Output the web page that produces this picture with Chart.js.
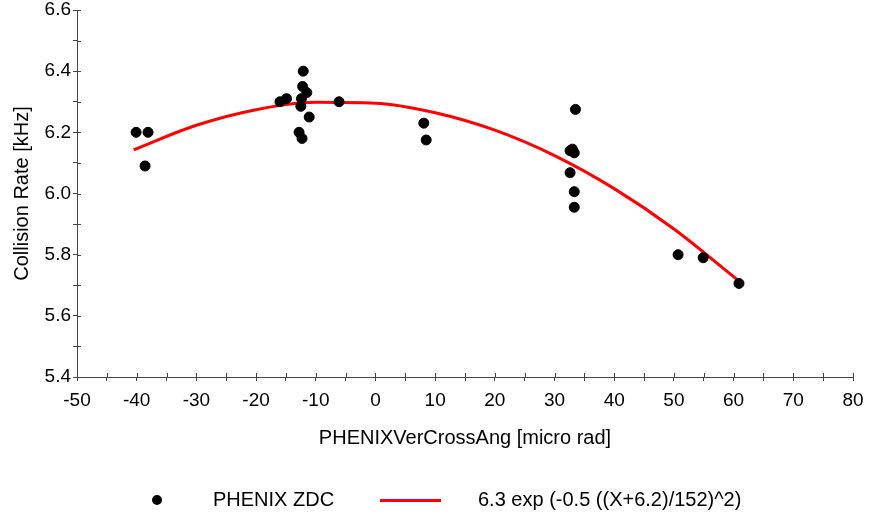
<!DOCTYPE html>
<html>
<head>
<meta charset="utf-8">
<script src="https://cdn.jsdelivr.net/npm/chart.js@4.4.0/dist/chart.umd.min.js"></script>
<style>
    body { margin: 0; background: #fff; }
    #wrap { position: relative; width: 872px; height: 520px; }
    .leg { position: absolute; font: 20px "Liberation Sans", Arial, sans-serif; color: #000; white-space: nowrap; }
</style>
</head>
<body>
<div id="wrap">
    <canvas id="myChart" width="872" height="520"></canvas>
    <div class="leg" style="left:152px; top:495px; width:10px; height:10px; border-radius:50%; background:#000;"></div>
    <div class="leg" style="left:213px; top:488px;">PHENIX ZDC</div>
    <div class="leg" style="left:380px; top:499px; width:61px; height:3px; background:#ff0000;"></div>
    <div class="leg" style="left:478px; top:488px;">6.3 exp (-0.5 ((X+6.2)/152)^2)</div>
</div>
<script>
// measured points (PHENIX ZDC)
var zdcX = [-40.1, -38.1, -38.6, -16.0, -14.9, -12.1, -12.2, -11.5, -12.4, -12.5, -11.1, -12.8, -12.3, -6.1,
            8.1, 8.5, 33.5, 32.6, 33.3, 33.0, 32.6, 33.3, 33.3, 50.7, 54.9, 60.9];
var zdcY = [6.20, 6.20, 6.09, 6.30, 6.31, 6.40, 6.35, 6.33, 6.31, 6.285, 6.25, 6.20, 6.18, 6.30,
            6.23, 6.175, 6.275, 6.14, 6.133, 6.145, 6.068, 6.006, 5.955, 5.80, 5.79, 5.706];

// gaussian fit curve
var fitX = [-40.5, -30, -20, -10, 0, 10, 20, 30, 40, 50, 60.5];
var fitY = [6.143, 6.223, 6.274, 6.298, 6.295, 6.264, 6.207, 6.124, 6.016, 5.884, 5.72];

var xLabel = 'PHENIXVerCrossAng [micro rad]';
var yLabel = 'Collision Rate [kHz]';

var fontFamily = '"Liberation Sans", Arial, sans-serif';

function toPoints(xs, ys) {
    var pts = [];
    for (var i = 0; i < xs.length; i++) {
        pts.push({ x: xs[i], y: ys[i] });
    }
    return pts;
}

// small tick marks on the inside of the axes
var innerTicks = {
    id: 'innerTicks',
    afterDraw: function(chart) {
        var ctx = chart.ctx;
        var xs = chart.scales.x, ys = chart.scales.y;
        ctx.save();
        ctx.strokeStyle = '#444';
        ctx.lineWidth = 1;
        ctx.beginPath();
        xs.ticks.forEach(function(t) {
            var px = Math.round(xs.getPixelForValue(t.value)) + 0.5;
            ctx.moveTo(px, ys.bottom);
            ctx.lineTo(px, ys.bottom - 4);
        });
        ys.ticks.forEach(function(t) {
            var py = Math.round(ys.getPixelForValue(t.value)) + 0.5;
            ctx.moveTo(xs.left, py);
            ctx.lineTo(xs.left + 4, py);
        });
        ctx.stroke();
        ctx.restore();
    }
};

var ctx = document.getElementById('myChart');
var myChart = new Chart(ctx, {
    type: 'scatter',
    data: {
        datasets: [{
            label: 'PHENIX ZDC',
            data: toPoints(zdcX, zdcY),
            backgroundColor: '#000',
            borderColor: '#000',
            pointRadius: 5,
            pointHoverRadius: 5
        }, {
            label: '6.3 exp (-0.5 ((X+6.2)/152)^2)',
            data: toPoints(fitX, fitY),
            showLine: true,
            borderColor: '#ff0000',
            borderWidth: 3,
            pointRadius: 0,
            cubicInterpolationMode: 'monotone',
            fill: false
        }]
    },
    options: {
        responsive: false,
        animation: false,
        layout: { padding: { left: 0, top: 10, right: 19, bottom: 63 } },
        plugins: {
            legend: { display: false },
            tooltip: { enabled: false }
        },
        scales: {
            x: {
                type: 'linear',
                min: -50,
                max: 80,
                afterFit: function(s) { s.height = 80; s.paddingRight = 0; },
                border: { color: '#444' },
                grid: { drawOnChartArea: false, tickLength: 4, color: '#444' },
                ticks: {
                    stepSize: 5,
                    autoSkip: false,
                    maxRotation: 0,
                    padding: 8,
                    color: '#000',
                    font: { family: fontFamily, size: 19 },
                    callback: function(v) { return (Math.round(v) % 10 === 0) ? String(Math.round(v)) : ''; }
                },
                title: {
                    display: true,
                    text: xLabel,
                    color: '#000',
                    font: { family: fontFamily, size: 20 },
                    padding: { top: 4, bottom: 7 }
                }
            },
            y: {
                type: 'linear',
                min: 5.4,
                max: 6.6,
                afterFit: function(s) { s.width = 77; s.paddingTop = 0; },
                border: { color: '#444' },
                grid: { drawOnChartArea: false, tickLength: 4, color: '#444' },
                ticks: {
                    stepSize: 0.1,
                    autoSkip: false,
                    padding: 2,
                    color: '#000',
                    font: { family: fontFamily, size: 19 },
                    callback: function(v) { return (Math.round(v * 10) % 2 === 0) ? v.toFixed(1) : ''; }
                },
                title: {
                    display: true,
                    text: yLabel,
                    color: '#000',
                    font: { family: fontFamily, size: 20 },
                    padding: { top: 10, bottom: 4 }
                }
            }
        }
    },
    plugins: [innerTicks]
});
</script>
</body>
</html>
